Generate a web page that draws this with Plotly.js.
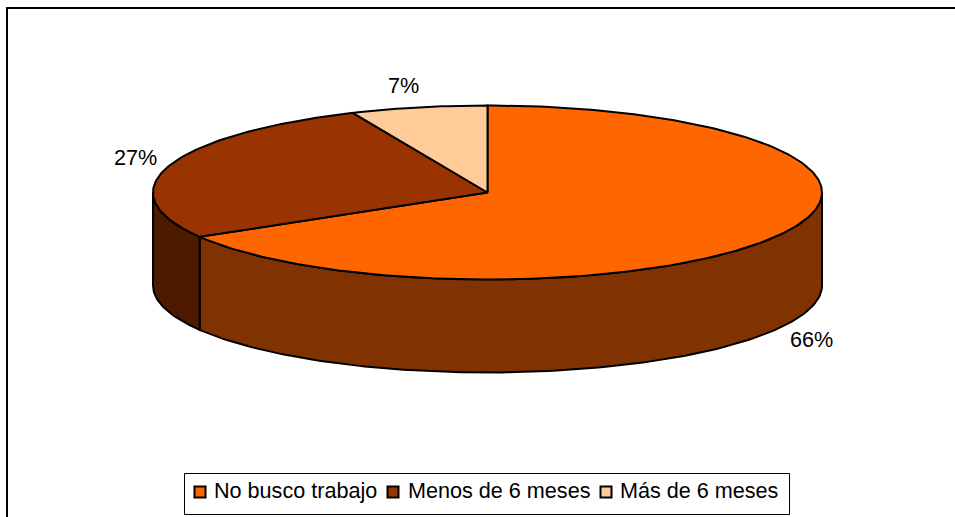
<!DOCTYPE html>
<html>
<head>
<meta charset="utf-8">
<script src="https://cdn.plot.ly/plotly-3.0.1.min.js"></script>
<style>html,body{margin:0;padding:0;background:#fff;overflow:hidden}#chart{width:955px;height:517px}</style>
</head>
<body>
<div id="chart"></div>
<script>
const categories = ["No busco trabajo", "Menos de 6 meses", "Más de 6 meses"];
const values = [66.49, 26.91, 6.6];
const topColors = ["#FF6600", "#993300", "#FFCC99"];
const wallColors = ["#803300", "#4D1A00", "#806633"];

// Geometry of the tilted disc, in pixels of the 955x517 page
const W = 955, H = 517, CX = 487.5, CY = 192.5, RX = 334.5, RY = 87, DEPTH = 93;
const FONT = "Liberation Sans, Arial, sans-serif";
const FS = 21.6;

// One axis unit = one pie radius
const toX = p => (p - CX) / RX;
const toY = p => (CY - p) / RY;
const rimX = a => Math.sin(a * Math.PI / 180);
const rimY = a => Math.cos(a * Math.PI / 180);
const drop = DEPTH / RY;

const total = values.reduce((s, v) => s + v, 0);
let acc = 0;
const slices = values.map(v => {
  const start = acc / total * 360; acc += v;
  return { start, end: acc / total * 360 };
});

function arc(a0, a1) {
  const out = [];
  const n = Math.max(2, Math.ceil(Math.abs(a1 - a0)));
  for (let i = 0; i <= n; i++) out.push(a0 + (a1 - a0) * i / n);
  return out;
}
const outline = { color: "#000", width: 2 };
const traces = [];

// Side walls: only the part of each slice facing the viewer (90..270 degrees)
slices.forEach((s, i) => {
  const a0 = Math.max(s.start, 90), a1 = Math.min(s.end, 270);
  if (a1 <= a0) return;
  const front = arc(a0, a1), back = front.slice().reverse();
  traces.push({
    type: "scatter", mode: "lines", fill: "toself", fillcolor: wallColors[i], line: outline,
    x: front.map(rimX).concat(back.map(rimX), [rimX(a0)]),
    y: front.map(rimY).concat(back.map(a => rimY(a) - drop), [rimY(a0)]),
    hoverinfo: "skip", showlegend: false
  });
});

// Top faces
slices.forEach((s, i) => {
  const pts = arc(s.start, s.end);
  traces.push({
    type: "scatter", mode: "lines", fill: "toself", fillcolor: topColors[i], line: outline,
    x: [0].concat(pts.map(rimX), [0]),
    y: [0].concat(pts.map(rimY), [0]),
    name: categories[i], text: categories[i] + ": " + Math.round(values[i]) + "%",
    hoverinfo: "text", showlegend: false
  });
});

// Legend swatches
const swatchPx = [200, 393, 606];
const legendTextPx = [214, 408, 620];
const legendY = 492;
categories.forEach((c, i) => traces.push({
  type: "scatter", mode: "markers", x: [toX(swatchPx[i])], y: [toY(legendY)],
  marker: { symbol: "square", size: 11, color: topColors[i], line: { color: "#000", width: 2 } },
  hoverinfo: "skip", showlegend: false
}));

const labelPx = [[811, 339], [135, 157], [403, 85]];
const annotations = values.map((v, i) => ({
  x: toX(labelPx[i][0]), y: toY(labelPx[i][1]), xref: "x", yref: "y",
  text: Math.round(v) + "%", showarrow: false, xanchor: "center", yanchor: "middle",
  font: { family: FONT, size: FS, color: "#000" }
})).concat(categories.map((c, i) => ({
  x: toX(legendTextPx[i]), y: toY(legendY - 2), xref: "x", yref: "y",
  text: c, showarrow: false, xanchor: "left", yanchor: "middle", xshift: -2,
  font: { family: FONT, size: FS, color: "#000" }
})));

const shapes = [
  { type: "line", xref: "x", yref: "y", x0: toX(6), y0: toY(8), x1: toX(W), y1: toY(8), line: { color: "#000", width: 2 } },
  { type: "line", xref: "x", yref: "y", x0: toX(7), y0: toY(8), x1: toX(7), y1: toY(H), line: { color: "#000", width: 2 } },
  { type: "rect", xref: "x", yref: "y", x0: toX(184.5), y0: toY(473.5), x1: toX(789.5), y1: toY(514.5), line: { color: "#000", width: 1 }, fillcolor: "#fff", layer: "below" }
];

const hiddenAxis = { visible: false, fixedrange: true, showgrid: false, zeroline: false };
Plotly.newPlot("chart", traces, {
  width: W, height: H,
  margin: { l: 0, r: 0, t: 0, b: 0, pad: 0 },
  paper_bgcolor: "#fff", plot_bgcolor: "#fff",
  showlegend: false,
  xaxis: Object.assign({ range: [toX(0), toX(W)] }, hiddenAxis),
  yaxis: Object.assign({ range: [toY(H), toY(0)] }, hiddenAxis),
  annotations, shapes
}, { displayModeBar: false, staticPlot: false });
</script>
</body>
</html>
